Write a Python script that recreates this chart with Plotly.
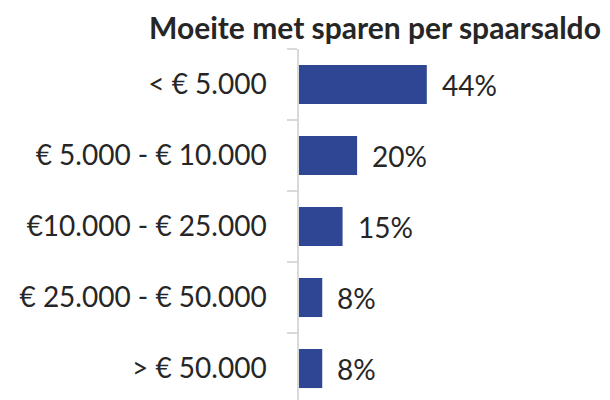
import plotly.graph_objects as go

categories = ["< € 5.000", "€ 5.000 - € 10.000", "€10.000 - € 25.000", "€ 25.000 - € 50.000", "> € 50.000"]
values = [44, 20, 15, 8, 8]
labels = ["44%", "20%", "15%", "8%", "8%"]

BAR = "#2E4694"
TXT = "#262626"
FONT = "Lato"

fig = go.Figure(go.Bar(
    x=values, y=categories, orientation="h",
    marker=dict(color=BAR, line=dict(width=0)),
    hoverinfo="skip",
))

for c, v, t in zip(categories, values, labels):
    fig.add_annotation(x=v, y=c, text=t, showarrow=False, xanchor="left",
                       xshift=13, font=dict(family=FONT, size=28, color=TXT))

fig.update_layout(
    width=610, height=400,
    margin=dict(l=291, r=14, t=41, b=0),
    paper_bgcolor="white", plot_bgcolor="white",
    bargap=0.45,
    showlegend=False,
    title=dict(text="<b>Moeite met sparen per spaarsaldo</b>", x=0.6016, xanchor="center",
               y=0.95, yanchor="middle", font=dict(family=FONT, size=30, color=TXT)),
    xaxis=dict(range=[0, 105], visible=False),
    yaxis=dict(range=[4.556, -0.5], type="category", tickson="boundaries",
               showline=True, linecolor="#d9d9d9", linewidth=1.5,
               ticks="outside", ticklen=10, tickcolor="#d9d9d9", tickwidth=1.5,
               showgrid=False, ticklabelstandoff=25,
               tickfont=dict(family=FONT, size=28, color=TXT)),
)

fig.write_html("out.html")
